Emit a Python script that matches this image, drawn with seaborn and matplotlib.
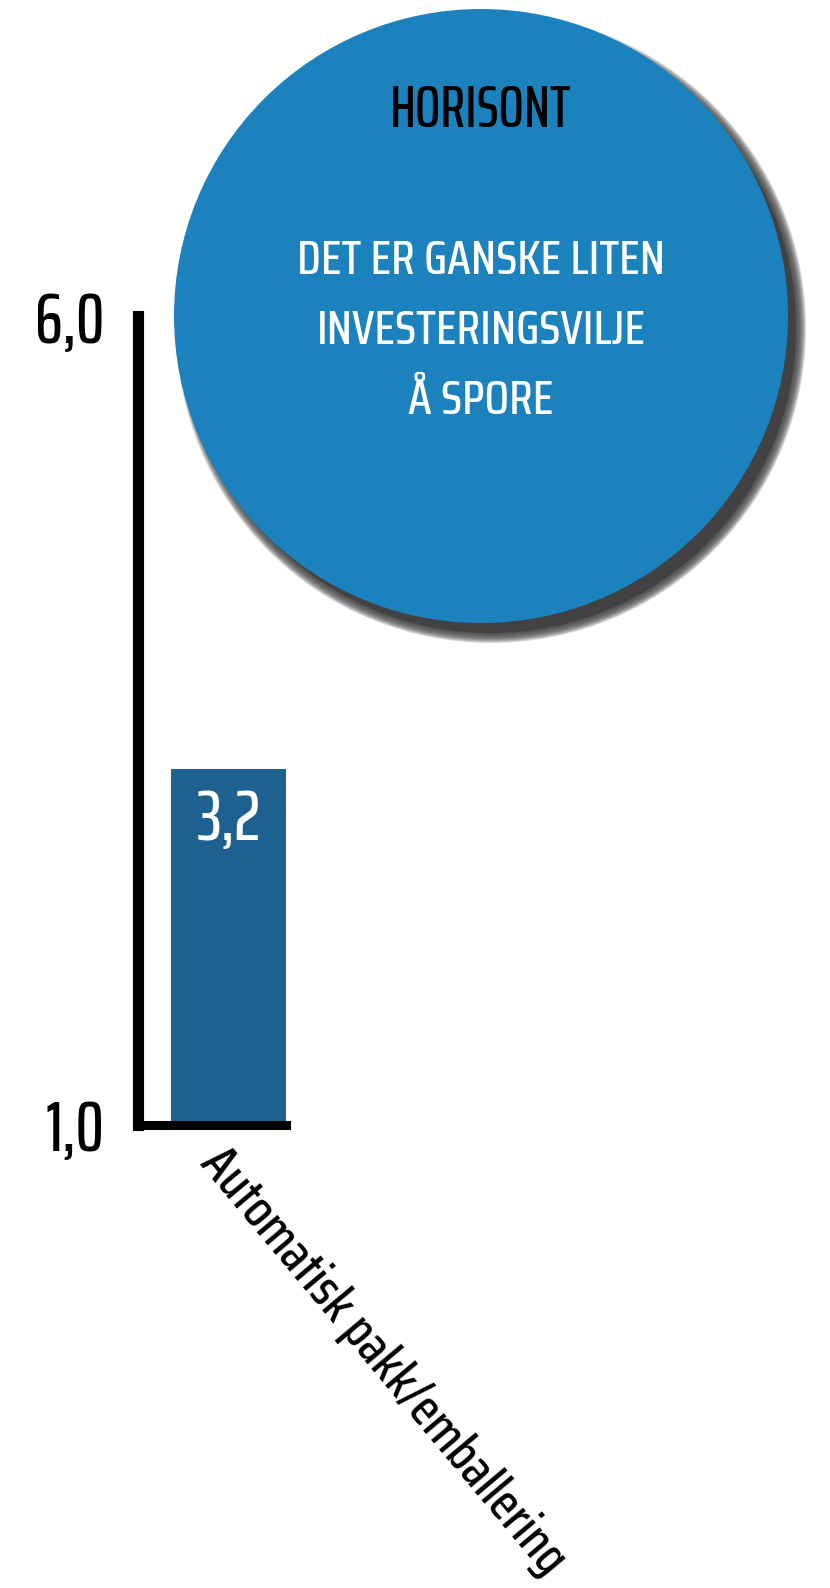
import matplotlib
matplotlib.use("Agg")
import matplotlib.pyplot as plt
import seaborn as sns
from matplotlib.patches import Circle

# ---- data ----
categories = ["Automatisk pakk/emballering"]
values = [3.2]
value_labels = ["3,2"]
y_ticks = [1.0, 6.0]
y_tick_labels = ["1,0", "6,0"]
bubble_title = "HORISONT"
bubble_lines = ["DET ER GANSKE LITEN", "INVESTERINGSVILJE", "Å SPORE"]

# ---- style ----
sns.set_style("white")
FONT = ["Saira ExtraCondensed", "DejaVu Sans"]
FONT_WIDE = ["Saira Condensed", "DejaVu Sans"]
plt.rcParams["font.family"] = FONT
plt.rcParams["font.weight"] = 500

bar_color = "#1d6190"
bubble_color = "#1c82bd"
shadow_color = "#424242"

W, H, DPI = 830, 1588, 100
fig = plt.figure(figsize=(W / DPI, H / DPI), dpi=DPI)
fig.patch.set_facecolor("white")

ax_left, ax_right = 137.5, 286.0
ax_top, ax_bottom = 316.0, 1125.0
ax = fig.add_axes([ax_left / W, (H - ax_bottom) / H,
                   (ax_right - ax_left) / W, (ax_bottom - ax_top) / H])

df = {"cat": categories, "val": values}
sns.barplot(x=df["cat"], y=df["val"], ax=ax, color=bar_color, width=0.8,
            saturation=1, edgecolor="none")

ax.set_ylim(y_ticks[0], y_ticks[-1])
ax.set_xlim(-0.633, 0.4)
ax.set_yticks(y_ticks)
ax.set_yticklabels(y_tick_labels, color="black")
ax.tick_params(axis="y", length=0, pad=24, labelsize=51)
ax.tick_params(axis="x", length=0, pad=10)
ax.set_xticks(range(len(categories)))
ax.set_xticklabels(categories, rotation=-50, ha="left", va="top",
                   rotation_mode="anchor", fontsize=37.2, color="black",
                   family=FONT_WIDE)

for s in ["top", "right"]:
    ax.spines[s].set_visible(False)
ax.spines["left"].set_linewidth(8)
ax.spines["bottom"].set_linewidth(6.5)
for s in ["left", "bottom"]:
    ax.spines[s].set_color("black")
    ax.spines[s].set_zorder(5)
    ax.spines[s].set_capstyle("projecting")
ax.patch.set_alpha(0)

for i, (v, lab) in enumerate(zip(values, value_labels)):
    ax.annotate(lab, xy=(i, v), xytext=(0, -13), textcoords="offset points",
                ha="center", va="top", color="white", fontsize=51)

# ---- bubble with soft shadow (pixel coordinates) ----
cx, cy, r = 481.0, H - 316.0, 307.0
sx, sy = 10.0, -12.0
for k in range(-4, 9):
    fig.add_artist(Circle((cx + sx, cy + sy), r + k, transform=None,
                          facecolor=shadow_color, edgecolor="none",
                          alpha=0.2, zorder=1))
fig.add_artist(Circle((cx + sx, cy + sy), r - 2, transform=None,
                      facecolor=shadow_color, edgecolor="none", zorder=1))
fig.add_artist(Circle((cx, cy), r, transform=None, facecolor=bubble_color,
                      edgecolor="none", zorder=2))

fig.text(cx / W, 1 - 111 / H, bubble_title, ha="center", va="center",
         color="black", fontsize=43, zorder=3)
for j, line in enumerate(bubble_lines):
    yy = 261 + j * 69.5
    fig.text(cx / W, 1 - yy / H, line, ha="center", va="center",
             color="white", fontsize=34.5, zorder=3, family=FONT_WIDE)

fig.savefig("out.png", dpi=DPI, facecolor="white")
